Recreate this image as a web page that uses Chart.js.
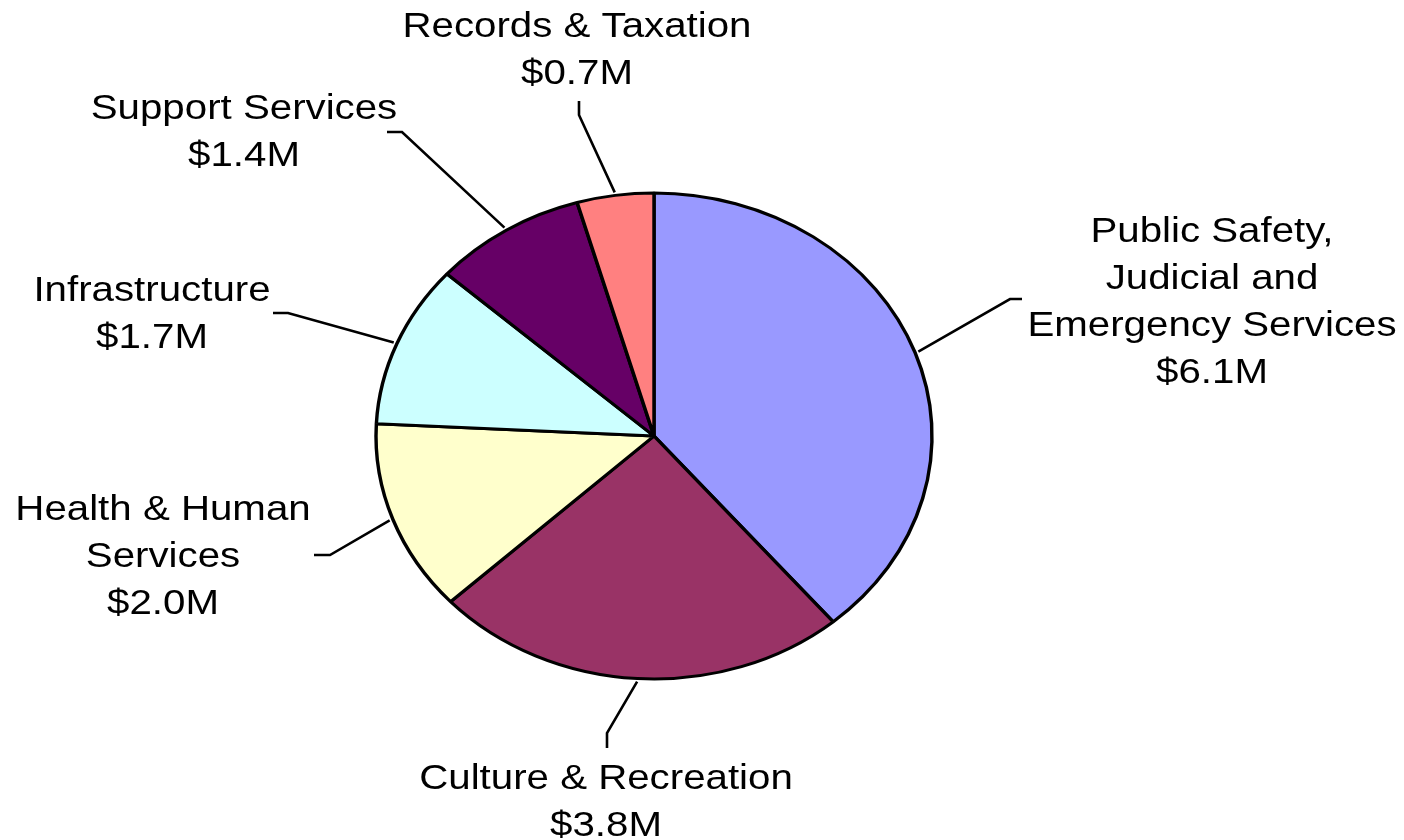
<!DOCTYPE html>
<html>
<head>
<meta charset="utf-8">
<script src="https://cdn.jsdelivr.net/npm/chart.js@4/dist/chart.umd.min.js"></script>
<style>
  html, body { margin: 0; padding: 0; background: #fff; }
  #wrap { width: 1404px; height: 840px; }
</style>
</head>
<body>
<div id="wrap"><canvas id="budget-chart" width="1404" height="840"></canvas></div>
<script>
// data
const categories = ['Public Safety, Judicial and Emergency Services', 'Culture & Recreation', 'Health & Human Services', 'Infrastructure', 'Support Services', 'Records & Taxation'];
const values = [6.1, 3.8, 2.0, 1.7, 1.4, 0.7];
const labelLines = [['Public Safety,', 'Judicial and', 'Emergency Services'], ['Culture & Recreation'], ['Health & Human', 'Services'], ['Infrastructure'], ['Support Services'], ['Records & Taxation']];
const colors = ['#9999FF', '#993366', '#FFFFCC', '#CCFFFF', '#660066', '#FF8080'];

// label layout: text centre x, first baseline y, leader elbow, leader end
const labelAt = [[1212, 242], [606, 789], [163, 520], [152, 301], [244, 119], [577, 37]];
const elbowAt = [[1010, 299], [607, 733], [330, 555], [288, 313], [402, 132], [579, 115]];
const endAt = [[1022, 299], [607, 748], [314, 555], [273, 313], [387, 132], [579, 101]];

const SX = 278 / 243;   // pie is stretched into an ellipse
const TX = 1.15;        // text is stretched too
const LINE_H = 47;

const ellipsePlugin = {
    id: 'ellipse',
    beforeDatasetsDraw(chart) {
        const arc = chart.getDatasetMeta(0).data[0];
        const ctx = chart.ctx;
        ctx.save();
        ctx.translate(arc.x, arc.y);
        ctx.scale(SX, 1);
        ctx.translate(-arc.x, -arc.y);
    },
    afterDatasetsDraw(chart) {
        chart.ctx.restore();
    }
};

const labelPlugin = {
    id: 'pieLabels',
    afterDraw(chart) {
        const ctx = chart.ctx;
        const arcs = chart.getDatasetMeta(0).data;
        arcs.forEach((arc, i) => {
            const mid = (arc.startAngle + arc.endAngle) / 2;
            const sx = arc.x + Math.cos(mid) * (arc.outerRadius + 3) * SX;
            const sy = arc.y + Math.sin(mid) * (arc.outerRadius + 3);

            // leader line
            ctx.save();
            ctx.strokeStyle = '#000';
            ctx.lineWidth = 2.6;
            ctx.beginPath();
            ctx.moveTo(sx, sy);
            ctx.lineTo(elbowAt[i][0], elbowAt[i][1]);
            ctx.lineTo(endAt[i][0], endAt[i][1]);
            ctx.stroke();
            ctx.restore();

            // text
            const lines = labelLines[i].concat(['$' + values[i].toFixed(1) + 'M']);
            ctx.save();
            ctx.translate(labelAt[i][0], labelAt[i][1]);
            ctx.scale(TX, 1);
            ctx.fillStyle = '#000';
            ctx.font = '35px "Liberation Sans", Arial, sans-serif';
            ctx.textAlign = 'center';
            ctx.textBaseline = 'alphabetic';
            lines.forEach((t, k) => ctx.fillText(t, 0, k * LINE_H));
            ctx.restore();
        });
    }
};

const ctx = document.getElementById('budget-chart').getContext('2d');
new Chart(ctx, {
    type: 'pie',
    data: {
        labels: categories,
        datasets: [{
            data: values,
            backgroundColor: colors,
            borderColor: '#000',
            borderWidth: 3
        }]
    },
    options: {
        responsive: false,
        animation: false,
        events: [],
        radius: 243,
        layout: { padding: { left: 200, right: 296, top: 193, bottom: 161 } },
        plugins: {
            legend: { display: false },
            tooltip: { enabled: false }
        }
    },
    plugins: [ellipsePlugin, labelPlugin]
});
</script>
</body>
</html>
